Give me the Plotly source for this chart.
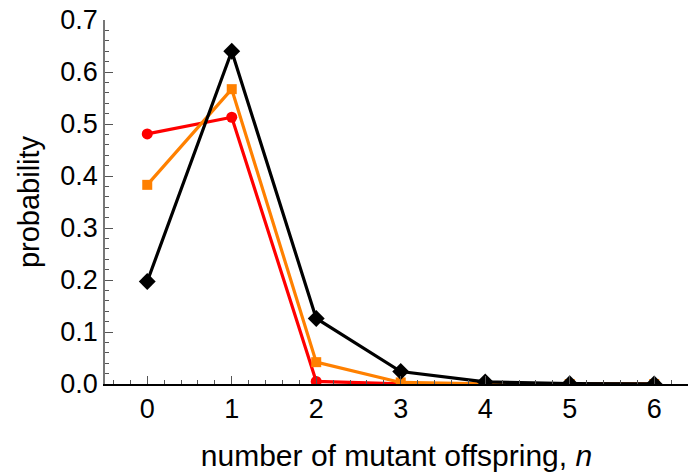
import plotly.graph_objects as go

n = [0, 1, 2, 3, 4, 5, 6]
p_black = [0.197, 0.640, 0.126, 0.024, 0.004, 0.0006, 0.0001]
p_orange = [0.383, 0.567, 0.042, 0.003, 0.0002, 0.0, 0.0]
p_red = [0.481, 0.513, 0.005, 0.0001, 0.0, 0.0, 0.0]

fig = go.Figure()
fig.add_trace(go.Scatter(x=n, y=p_red, mode="lines+markers",
                         line=dict(color="#ff0000", width=3.2),
                         marker=dict(symbol="circle", size=11, color="#ff0000")))
fig.add_trace(go.Scatter(x=n, y=p_orange, mode="lines+markers",
                         line=dict(color="#ff8000", width=3.2),
                         marker=dict(symbol="square", size=10, color="#ff8000")))
fig.add_trace(go.Scatter(x=n, y=p_black, mode="lines+markers",
                         line=dict(color="#000000", width=3.2),
                         marker=dict(symbol="diamond", size=13, color="#000000")))

font = dict(family="Liberation Sans, Arial, sans-serif", size=27, color="#000")

fig.update_layout(
    width=690, height=474,
    margin=dict(l=105, r=2, t=20, b=90),
    plot_bgcolor="white", paper_bgcolor="white",
    showlegend=False,
    font=font,
    xaxis=dict(range=[-0.5, 6.4], tickvals=n, ticktext=[str(v) for v in n],
               showgrid=False, zeroline=False, showline=True, linecolor="#000", linewidth=1.5,
               ticks="inside", ticklen=8, tickcolor="#555", tickwidth=1,
               minor=dict(ticks="inside", dtick=0.2, tick0=0, ticklen=4, tickcolor="#555"),
               title=dict(text="number of mutant offspring, <i>n</i>", font=dict(size=30), standoff=22),
               tickfont=font),
    yaxis=dict(range=[0, 0.7], tickvals=[0, 0.1, 0.2, 0.3, 0.4, 0.5, 0.6, 0.7],
               ticktext=["0.0", "0.1", "0.2", "0.3", "0.4", "0.5", "0.6", "0.7"],
               showgrid=False, zeroline=False, showline=True, linecolor="#777", linewidth=1.5,
               ticks="inside", ticklen=8, tickcolor="#555", tickwidth=1,
               minor=dict(ticks="inside", dtick=0.02, tick0=0, ticklen=4, tickcolor="#555"),
               title=dict(text="probability", font=dict(size=29), standoff=12),
               tickfont=font),
)

fig.write_html("out.html")
